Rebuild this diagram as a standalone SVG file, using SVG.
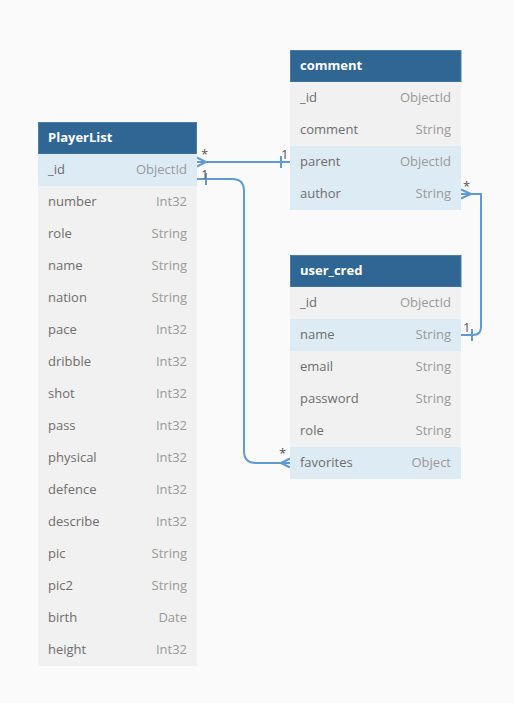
<svg xmlns="http://www.w3.org/2000/svg" width="514" height="703" viewBox="0 0 514 703">
<style>
.bg{fill:#fafafa}
.hd{fill:#306693;stroke:#4d7ea8;stroke-width:1}
.ht{font-family:"Open Sans","Liberation Sans",sans-serif;font-size:13px;font-weight:bold;fill:#ffffff}
.row{fill:#f1f1f1}
.hl{fill:#ddebf4}
.nm{font-family:"Open Sans","Liberation Sans",sans-serif;font-size:13px;fill:#6e6e6e}
.ty{font-family:"Open Sans","Liberation Sans",sans-serif;font-size:13px;fill:#9a9a9a;text-anchor:end}
.ln{fill:none;stroke:#5f9bd2;stroke-width:2}
.lb{font-family:"Open Sans","Liberation Sans",sans-serif;font-size:13px;fill:#555}
</style>
<rect class="bg" x="0" y="0" width="514" height="703"/>

<g id="connectors">
  <!-- PlayerList._id (many) to comment.parent (1) -->
  <path class="ln" d="M197,162 H290"/>
  <path class="ln" d="M197,157.5 L206,162 L197,166.5"/>
  <path class="ln" d="M281,156 V168"/>
  <text class="lb" x="201" y="159">*</text>
  <text class="lb" x="281" y="159">1</text>

  <!-- PlayerList._id (1) to user_cred.favorites (many) -->
  <path class="ln" d="M197,179 H232 Q244,179 244,191 V451 Q244,463 256,463 H290"/>
  <path class="ln" d="M206,173 V185"/>
  <path class="ln" d="M290,458.5 L281,463 L290,467.5"/>
  <text class="lb" x="201" y="179">1</text>
  <text class="lb" x="279" y="458">*</text>

  <!-- comment.author (many) to user_cred.name (1) -->
  <path class="ln" d="M461,194 H481 V327 Q481,335 473,335 H461"/>
  <path class="ln" d="M461,189.5 L471,194 L461,198.5"/>
  <path class="ln" d="M472,329 V341"/>
  <text class="lb" x="463" y="191">*</text>
  <text class="lb" x="463" y="332">1</text>
</g>

<g id="PlayerList">
  <rect class="hd" x="38.5" y="122.5" width="158" height="31.5"/>
  <text class="ht" x="48" y="142">PlayerList</text>
  <rect class="hl" x="38" y="154" width="159" height="32"/>
  <rect class="row" x="38" y="186" width="159" height="480"/>
  <text class="nm" x="48" y="174">_id</text><text class="ty" x="187" y="174">ObjectId</text>
  <text class="nm" x="48" y="206">number</text><text class="ty" x="187" y="206">Int32</text>
  <text class="nm" x="48" y="238">role</text><text class="ty" x="187" y="238">String</text>
  <text class="nm" x="48" y="270">name</text><text class="ty" x="187" y="270">String</text>
  <text class="nm" x="48" y="302">nation</text><text class="ty" x="187" y="302">String</text>
  <text class="nm" x="48" y="334">pace</text><text class="ty" x="187" y="334">Int32</text>
  <text class="nm" x="48" y="366">dribble</text><text class="ty" x="187" y="366">Int32</text>
  <text class="nm" x="48" y="398">shot</text><text class="ty" x="187" y="398">Int32</text>
  <text class="nm" x="48" y="430">pass</text><text class="ty" x="187" y="430">Int32</text>
  <text class="nm" x="48" y="462">physical</text><text class="ty" x="187" y="462">Int32</text>
  <text class="nm" x="48" y="494">defence</text><text class="ty" x="187" y="494">Int32</text>
  <text class="nm" x="48" y="526">describe</text><text class="ty" x="187" y="526">Int32</text>
  <text class="nm" x="48" y="558">pic</text><text class="ty" x="187" y="558">String</text>
  <text class="nm" x="48" y="590">pic2</text><text class="ty" x="187" y="590">String</text>
  <text class="nm" x="48" y="622">birth</text><text class="ty" x="187" y="622">Date</text>
  <text class="nm" x="48" y="654">height</text><text class="ty" x="187" y="654">Int32</text>
</g>

<g id="comment">
  <rect class="hd" x="290.5" y="50.5" width="170.5" height="31.5"/>
  <text class="ht" x="300" y="70">comment</text>
  <rect class="row" x="290" y="82" width="171" height="64"/>
  <rect class="hl" x="290" y="146" width="171" height="64"/>
  <text class="nm" x="300" y="102">_id</text><text class="ty" x="451" y="102">ObjectId</text>
  <text class="nm" x="300" y="134">comment</text><text class="ty" x="451" y="134">String</text>
  <text class="nm" x="300" y="166">parent</text><text class="ty" x="451" y="166">ObjectId</text>
  <text class="nm" x="300" y="198">author</text><text class="ty" x="451" y="198">String</text>
</g>

<g id="user_cred">
  <rect class="hd" x="290.5" y="255.5" width="170.5" height="31.5"/>
  <text class="ht" x="300" y="275">user_cred</text>
  <rect class="row" x="290" y="287" width="171" height="32"/>
  <rect class="hl" x="290" y="319" width="171" height="32"/>
  <rect class="row" x="290" y="351" width="171" height="96"/>
  <rect class="hl" x="290" y="447" width="171" height="32"/>
  <text class="nm" x="300" y="307">_id</text><text class="ty" x="451" y="307">ObjectId</text>
  <text class="nm" x="300" y="339">name</text><text class="ty" x="451" y="339">String</text>
  <text class="nm" x="300" y="371">email</text><text class="ty" x="451" y="371">String</text>
  <text class="nm" x="300" y="403">password</text><text class="ty" x="451" y="403">String</text>
  <text class="nm" x="300" y="435">role</text><text class="ty" x="451" y="435">String</text>
  <text class="nm" x="300" y="467">favorites</text><text class="ty" x="451" y="467">Object</text>
</g>
</svg>
